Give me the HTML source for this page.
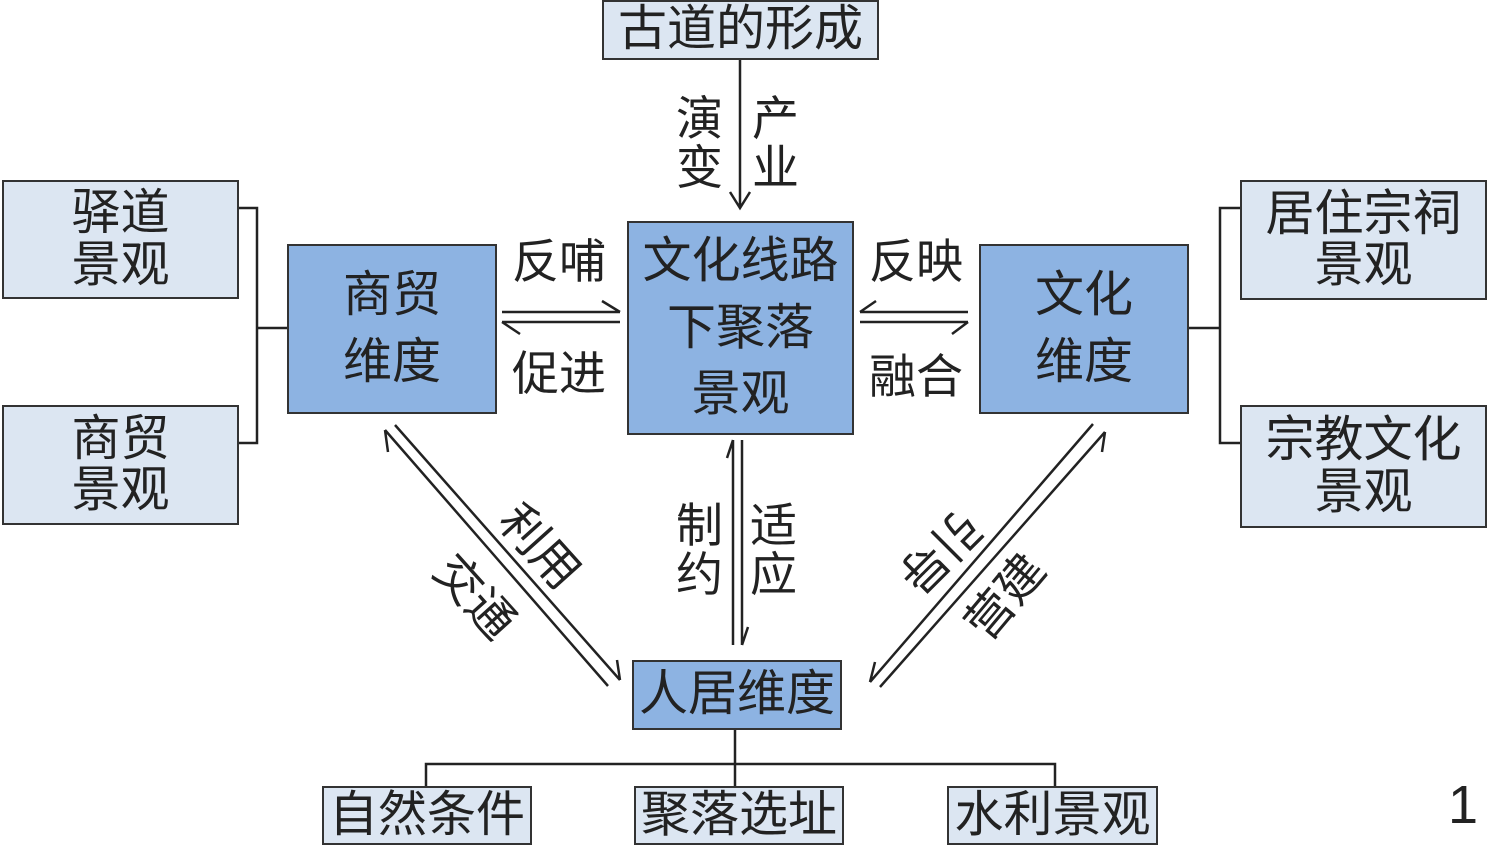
<!DOCTYPE html>
<html><head><meta charset="utf-8"><style>
body{margin:0;width:1488px;height:847px;background:#fff;position:relative;overflow:hidden;font-family:"Liberation Sans","Noto Sans CJK SC",sans-serif;color:#222}
.b{position:absolute;box-sizing:border-box;border:2.5px solid #333;display:flex;align-items:center;justify-content:center;text-align:center;line-height:1.05;font-size:49px}
.l{background:#dce6f2}.d{background:#8db3e2}
.t{position:absolute;font-size:47px;line-height:1}
</style></head><body>
<svg width="1488" height="847" style="position:absolute;left:0;top:0" fill="none" stroke="#222" stroke-width="2.5">
<path d="M740 59V208M730 192L740 208L750 192"/>
<path d="M502 312H620M602 301L620 312M502 322H620M502 322L520 334"/>
<path d="M860 312H968M860 312L876 301M860 322H968M952 334L968 322"/>
<path d="M733 645V440M733 440L727 458M742 440V645M742 645L748 627"/>
<path d="M395 425L620 680M620 680L617 660M385 430L608 686M385 430L388 452"/>
<path d="M1093 424L870 682M870 682L875 662M1105 432L880 687M1105 432L1102 452"/>
<path d="M238 208H257V443H238M257 328H287"/>
<path d="M1240 208H1220V443H1240M1220 328H1188"/>
<path d="M735 729V764M426 786V764H1055V786M735 764V786"/>
</svg>
<div class="b l" style="left:602px;top:0;width:277px;height:60px">古道的形成</div>
<div class="b d" style="left:627px;top:221px;width:227px;height:214px;line-height:1.36">文化线路<br>下聚落<br>景观</div>
<div class="b d" style="left:287px;top:244px;width:210px;height:170px;line-height:1.36">商贸<br>维度</div>
<div class="b d" style="left:979px;top:244px;width:210px;height:170px;line-height:1.36">文化<br>维度</div>
<div class="b d" style="left:632px;top:660px;width:210px;height:70px">人居维度</div>
<div class="b l" style="left:2px;top:180px;width:237px;height:119px">驿道<br>景观</div>
<div class="b l" style="left:2px;top:405px;width:237px;height:120px">商贸<br>景观</div>
<div class="b l" style="left:1240px;top:180px;width:247px;height:120px">居住宗祠<br>景观</div>
<div class="b l" style="left:1240px;top:405px;width:247px;height:123px">宗教文化<br>景观</div>
<div class="b l" style="left:322px;top:786px;width:210px;height:59px">自然条件</div>
<div class="b l" style="left:634px;top:786px;width:210px;height:59px">聚落选址</div>
<div class="b l" style="left:947px;top:786px;width:211px;height:59px">水利景观</div>
<div class="t" style="left:676px;top:94px;line-height:1.05">演<br>变</div>
<div class="t" style="left:752px;top:94px;line-height:1.05">产<br>业</div>
<div class="t" style="left:512px;top:238px">反哺</div>
<div class="t" style="left:512px;top:350px">促进</div>
<div class="t" style="left:869px;top:238px">反映</div>
<div class="t" style="left:869px;top:353px">融合</div>
<div class="t" style="left:676px;top:501px;line-height:1.05">制<br>约</div>
<div class="t" style="left:750px;top:501px;line-height:1.05">适<br>应</div>
<div class="t" style="left:493px;top:523px;transform:rotate(48deg)">利用</div>
<div class="t" style="left:428px;top:573px;transform:rotate(48deg)">交通</div>
<div class="t" style="left:893px;top:528px;transform:rotate(135deg)">引导</div>
<div class="t" style="left:958px;top:573px;transform:rotate(-50deg)">营建</div>
<div class="t" style="left:1448px;top:778px;font-size:54px">1</div>
</body></html>
